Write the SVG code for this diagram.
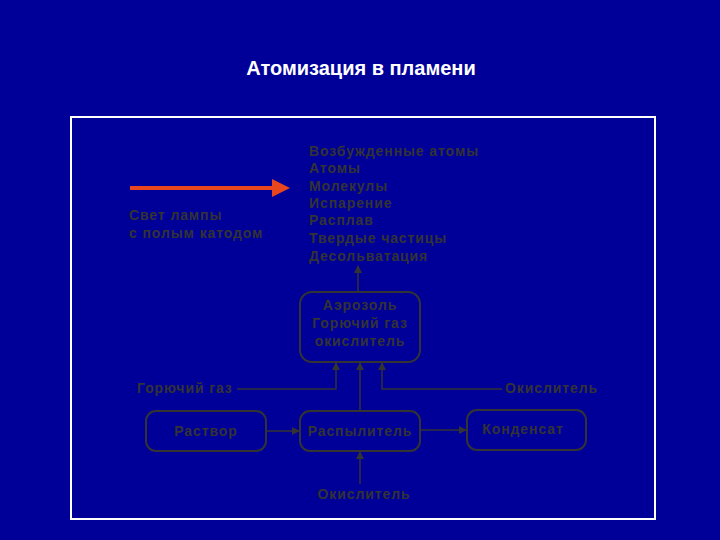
<svg xmlns="http://www.w3.org/2000/svg" width="720" height="540" viewBox="0 0 720 540">
<defs>
<style>
.t{font-family:"Liberation Sans",Arial,sans-serif;font-size:14px;font-weight:bold;fill:#333333;letter-spacing:0.9px}
.c{text-anchor:middle}
.box{fill:none;stroke:#333333;stroke-width:2}
.ln{fill:none;stroke:#333333;stroke-width:1.5}
</style>
<marker id="ah" markerWidth="8" markerHeight="8" refX="7" refY="4" orient="auto" markerUnits="userSpaceOnUse">
<path d="M0,0 L8,4 L0,8 Z" fill="#333333"/>
</marker>
</defs>
<rect width="720" height="540" fill="#000099"/>
<text x="361" y="75" text-anchor="middle" font-family="Liberation Sans,Arial,sans-serif" font-size="20" font-weight="bold" fill="#ffffff">Атомизация в пламени</text>
<rect x="71" y="117" width="584" height="402" fill="none" stroke="#ffffff" stroke-width="2"/>

<g id="lamp">
<line x1="130" y1="188" x2="274" y2="188" stroke="#e8461e" stroke-width="4"/>
<polygon points="272,179 290,188 272,197" fill="#e8461e"/>
<text class="t" x="129" y="220">Свет лампы</text>
<text class="t" x="129" y="238">с полым катодом</text>
</g>

<g id="processes">
<text class="t" x="309" y="156">Возбужденные атомы</text>
<text class="t" x="309" y="173">Атомы</text>
<text class="t" x="309" y="191">Молекулы</text>
<text class="t" x="309" y="208">Испарение</text>
<text class="t" x="309" y="225">Расплав</text>
<text class="t" x="309" y="243">Твердые частицы</text>
<text class="t" x="309" y="261">Десольватация</text>
</g>

<g id="aerosol">
<rect class="box" x="300" y="292" width="120" height="70" rx="12"/>
<text class="t c" x="360" y="310">Аэрозоль</text>
<text class="t c" x="360" y="328">Горючий газ</text>
<text class="t c" x="360" y="346">окислитель</text>
</g>

<g id="fuel">
<text class="t" x="137" y="393">Горючий газ</text>
</g>
<g id="oxidant1">
<text class="t" x="505" y="393">Окислитель</text>
</g>

<g id="solution">
<rect class="box" x="146" y="411" width="120" height="40" rx="10"/>
<text class="t c" x="206" y="436">Раствор</text>
</g>
<g id="nebulizer">
<rect class="box" x="300" y="411" width="120" height="40" rx="10"/>
<text class="t c" x="360" y="436">Распылитель</text>
</g>
<g id="condensate">
<rect class="box" x="467" y="410" width="119" height="40" rx="10"/>
<text class="t c" x="523" y="434">Конденсат</text>
</g>
<g id="oxidant2">
<text class="t c" x="364" y="499">Окислитель</text>
</g>

<g id="connectors">
<line class="ln" x1="358" y1="292" x2="358" y2="266" marker-end="url(#ah)"/>
<polyline class="ln" points="237,389 336,389 336,363" marker-end="url(#ah)"/>
<line class="ln" x1="360" y1="411" x2="360" y2="363" marker-end="url(#ah)"/>
<polyline class="ln" points="502,389 382,389 382,363" marker-end="url(#ah)"/>
<line class="ln" x1="266" y1="431" x2="299" y2="431" marker-end="url(#ah)"/>
<line class="ln" x1="421" y1="430" x2="466" y2="430" marker-end="url(#ah)"/>
<line class="ln" x1="360" y1="484" x2="360" y2="452" marker-end="url(#ah)"/>
</g>
</svg>
